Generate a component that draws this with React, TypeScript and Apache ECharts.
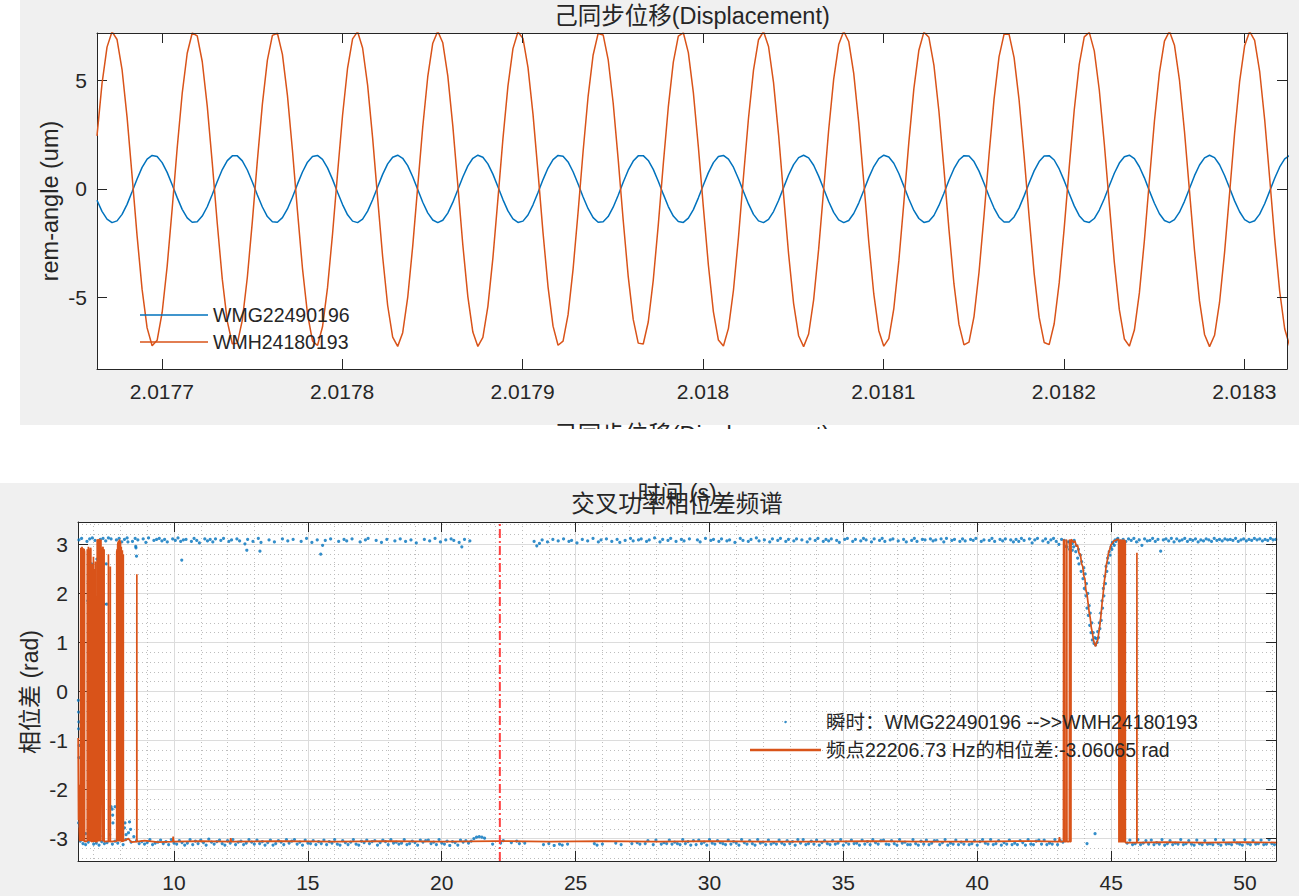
import React, { useEffect, useRef } from "react";
import * as echarts from "echarts";

const _ = null;

// ===== Top chart: 已同步位移 (Displacement) =====
const DISP_T0 = 2.0176641; // s, first sample time
const DISP_FS = 360000; // Hz, sample rate
const DISP_XMIN = 2.0176641;
const DISP_XMAX = 2.0183237;
const DISP_YMIN = -8.28;
const DISP_YMAX = 7.17;

const dispWMG = [
  -0.52, -1.03, -1.39, -1.55, -1.47, -1.17, -0.71, -0.13, 0.46, 0.99,
  1.37, 1.54, 1.49, 1.21, 0.76, 0.19, -0.4, -0.94, -1.33, -1.53,
  -1.51, -1.25, -0.82, -0.26, 0.34, 0.89, 1.3, 1.52, 1.52, 1.29,
  0.87, 0.32, -0.28, -0.83, -1.27, -1.51, -1.53, -1.32, -0.92, -0.38,
  0.22, 0.78, 1.23, 1.49, 1.54, 1.36, 0.97, 0.44, -0.15, -0.72,
  -1.19, -1.48, -1.55, -1.39, -1.02, -0.5, 0.09, 0.67, 1.15, 1.46,
  1.55, 1.41, 1.07, 0.56, -0.03, -0.61, -1.1, -1.43, -1.55, -1.44,
  -1.11, -0.62, -0.04, 0.55, 1.06, 1.41, 1.55, 1.46, 1.15, 0.68,
  0.1, -0.49, -1.01, -1.38, -1.54, -1.48, -1.2, -0.73, -0.16, 0.43,
  0.96, 1.35, 1.54, 1.5, 1.24, 0.79, 0.23, -0.37, -0.91, -1.32,
  -1.53, -1.51, -1.27, -0.84, -0.29, 0.31, 0.86, 1.28, 1.52, 1.53,
  1.31, 0.9, 0.35, -0.24, -0.81, -1.25, -1.5, -1.54, -1.34, -0.95,
  -0.41, 0.18, 0.75, 1.21, 1.49, 1.54, 1.37, 1.0, 0.47, -0.12,
  -0.69, -1.17, -1.47, -1.55, -1.4, -1.04, -0.53, 0.06, 0.64, 1.12,
  1.44, 1.55, 1.43, 1.09, 0.59, 0.01, -0.58, -1.08, -1.42, -1.55,
  -1.45, -1.13, -0.65, -0.07, 0.52, 1.03, 1.39, 1.55, 1.47, 1.18,
  0.71, 0.13, -0.46, -0.99, -1.36, -1.54, -1.49, -1.22, -0.76, -0.2,
  0.4, 0.93, 1.33, 1.53, 1.51, 1.26, 0.82, 0.26, -0.34, -0.88,
  -1.3, -1.52, -1.52, -1.29, -0.87, -0.32, 0.27, 0.83, 1.26, 1.51,
  1.53, 1.33, 0.92, 0.38, -0.21, -0.78, -1.23, -1.49, -1.54, -1.36,
  -0.97, -0.45, 0.15, 0.72, 1.19, 1.48, 1.55, 1.39, 1.02, 0.51,
  -0.09, -0.66, -1.14, -1.45, -1.55, -1.41, -1.07, -0.57, 0.02, 0.61,
  1.1, 1.43, 1.55, 1.44, 1.11, 0.62, 0.04, -0.55, -1.05, -1.41,
  -1.55, -1.46, -1.16, -0.68, -0.1, 0.49, 1.01, 1.38, 1.54,
];

const dispWMH = [
  2.44, 4.84, 6.52, 7.23, 6.87, 5.49, 3.3, 0.61, -2.16, -4.62,
  -6.39, -7.21, -6.96, -5.68, -3.56, -0.91, 1.88, 4.39, 6.24, 7.17,
  7.04, 5.86, 3.81, 1.2, -1.59, -4.15, -6.09, -7.12, -7.1, -6.03,
  -4.06, -1.49, 1.3, 3.9, 5.92, 7.06, 7.16, 6.19, 4.3, 1.78,
  -1.01, -3.65, -5.74, -6.99, -7.2, -6.34, -4.54, -2.07, 0.71, 3.39,
  5.56, 6.9, 7.23, 6.48, 4.77, 2.35, -0.42, -3.12, -5.36, -6.81,
  -7.24, -6.61, -4.99, -2.63, 0.12, 2.85, 5.16, 6.7, 7.25, 6.72,
  5.2, 2.9, 0.18, -2.58, -4.95, -6.58, -7.24, -6.83, -5.4, -3.17,
  -0.47, 2.3, 4.73, 6.45, 7.22, 6.92, 5.59, 3.44, 0.77, -2.01,
  -4.5, -6.31, -7.19, -7.0, -5.78, -3.69, -1.06, 1.73, 4.26, 6.16,
  7.15, 7.08, 5.95, 3.95, 1.36, -1.44, -4.02, -6.0, -7.09, -7.13,
  -6.12, -4.19, -1.65, 1.15, 3.77, 5.83, 7.03, 7.18, 6.27, 4.43,
  1.93, -0.85, -3.51, -5.65, -6.95, -7.22, -6.41, -4.66, -2.22, 0.56,
  3.25, 5.46, 6.86, 7.24, 6.55, 4.89, 2.5, -0.26, -2.98, -5.26,
  -6.75, -7.25, -6.67, -5.1, -2.77, -0.04, 2.71, 5.05, 6.64, 7.25,
  6.78, 5.31, 3.05, 0.33, -2.43, -4.83, -6.52, -7.23, -6.88, -5.5,
  -3.31, -0.63, 2.15, 4.61, 6.38, 7.21, 6.97, 5.69, 3.57, 0.92,
  -1.86, -4.37, -6.23, -7.17, -7.04, -5.87, -3.83, -1.22, 1.57, 4.13,
  6.08, 7.12, 7.11, 6.04, 4.08, 1.51, -1.28, -3.88, -5.91, -7.06,
  -7.16, -6.2, -4.32, -1.8, 0.99, 3.63, 5.73, 6.99, 7.2, 6.35,
  4.55, 2.08, -0.69, -3.37, -5.55, -6.9, -7.23, -6.49, -4.78, -2.37,
  0.4, 3.11, 5.35, 6.8, 7.25, 6.61, 5.0, 2.64, -0.1, -2.83,
  -5.15, -6.69, -7.25, -6.73, -5.21, -2.92, -0.2, 2.56, 4.93, 6.58,
  7.24, 6.83, 5.41, 3.19, 0.49, -2.28, -4.71, -6.44, -7.22,
];

// ===== Bottom chart: 交叉功率相位差频谱 =====
const PH_XMIN = 6.415;
const PH_XMAX = 51.158;
const PH_YMIN = -3.456;
const PH_YMAX = 3.456;
const PH_STEP = 0.1; // s, frame step
const PH_UPPER_T0 = 6.45;
const PH_LOWER_T0 = 6.5;
const MARKER_T = 22.17;

// instantaneous phase near +pi (one value per frame, null = no point)
const phaseUpper = [
  3.09, 3.12, _, 3.06, 3.11, 3.13, 3.08, _, 3.1, 3.12,
  3.07, 3.13, 3.11, _, 3.09, 3.12, 3.05, 3.1, 3.13, _,
  3.06, 3.12, 3.09, _, 3.11, 3.04, 3.13, _, 3.08, 3.1,
  3.12, 3.07, 3.1, 3.05, _, 3.11, 3.08, 3.13, 3.06, 3.09,
  3.1, _, 3.06, 3.12, 3.08, 3.03, _, 3.11, 3.07, 3.1,
  3.05, 3.11, _, 3.08, 3.12, _, 3.06, 3.09, _, 3.11,
  3.07, _, 3.01, 3.1, _, 3.06, _, 3.12, 3.04, _,
  _, 3.09, _, 3.05, _, _, 3.11, _, 3.07, _,
  3.1, _, _, 3.06, _, 3.12, _, 3.04, _, 3.09,
  _, 2.98, 3.08, _, 3.11, _, _, 3.06, _, 3.1,
  3.07, _, 3.11, _, _, 3.05, _, 3.09, 3.12, _,
  _, 3.08, _, 3.04, _, 3.1, _, _, 3.07, _,
  3.11, _, 3.06, _, 3.09, _, 3.03, _, _, 3.1,
  _, 3.07, _, 3.12, _, 3.05, _, 3.09, _, 3.11,
  3.08, _, 3.04, 2.95, 3.1, _, 3.07, _, _, _,
  _, _, _, _, _, _, _, _, _, _,
  _, _, _, _, _, _, _, _, _, _,
  3.06, 2.97, 3.02, 3.09, _, 3.05, _, 3.1, _, 3.07,
  _, 3.11, _, 3.06, 3.08, _, 3.03, _, 3.1, _,
  3.07, _, 3.12, _, 3.05, 3.09, _, 3.11, _, 3.06,
  _, 3.1, 3.04, _, 3.08, _, 3.12, 3.07, _, 3.09,
  3.11, _, 3.06, 3.09, _, 3.13, _, 3.05, 3.1, _,
  3.08, 3.12, _, 3.06, _, 3.1, 3.07, _, 3.11, _,
  _, 3.09, 3.05, _, 3.12, _, 3.08, 3.1, _, 3.06,
  3.11, _, 3.07, 3.09, _, 3.04, _, 3.12, 3.08, _,
  3.06, 3.1, _, 3.13, 3.07, _, 3.09, _, 3.05, 3.11,
  _, 3.08, 3.12, _, 3.06, 3.1, _, 3.07, 3.11, _,
  3.09, _, 3.05, 3.11, _, 3.08, 3.12, _, 3.06, 3.1,
  3.07, 3.11, _, 3.08, 3.04, _, 3.1, 3.12, _, 3.06,
  3.1, _, 3.07, 3.12, 3.09, _, 3.05, 3.11, _, 3.08,
  3.12, 3.06, _, 3.09, 3.11, _, 3.07, _, 3.1, 3.05,
  _, 3.08, 3.12, 3.06, _, 3.1, 3.09, _, 3.11, 3.07,
  3.09, _, 3.11, 3.05, 3.12, _, 3.08, 3.1, _, 3.06,
  3.11, 3.07, _, 3.1, 3.08, 3.12, _, 3.06, 3.09, _,
  3.08, 3.12, 3.06, _, 3.1, 3.07, 3.11, _, 3.09, 3.05,
  3.1, 3.06, 3.12, 3.08, _, 3.11, 3.03, 3.09, 3.12, _,
  3.07, 3.11, 3.04, 3.09, 3.12, 3.06, 3.0, 3.1, 3.08, 2.95,
  3.05, 2.88, _, _, _, _, _, _, _, _,
  _, _, _, _, _, _, 3.04, 3.09, 3.12, 3.07,
  3.1, 3.06, 3.11, 3.08, 3.12, 3.05, 3.09, 2.98, 3.11, 3.07,
  3.08, 3.12, 3.06, 3.1, 2.86, 3.09, 3.11, 3.07, 3.12, 3.05,
  3.11, 3.07, 3.09, 3.12, 3.06, 3.1, 3.08, 3.11, 3.05, 3.09,
  3.07, 3.11, 3.09, 3.06, 3.12, 3.08, 3.1, 3.07, 3.11, 3.09,
  3.1, 3.08, 3.12, 3.06, 3.09, 3.11, 3.07, 3.1, 3.08, 3.12,
  3.09, 3.11, 3.07, 3.1, 3.08, 3.12, 3.09, 3.1,
];

// instantaneous phase near -pi (one value per frame, null = no point)
const phaseLower = [
  -3.05, -3.1, -3.12, -3.07, -2.98, -3.11, -3.09, -3.13, -3.06, -3.1,
  -3.08, -2.92, -3.11, -3.05, -3.09, -2.95, -3.12, -3.02, -2.88, -3.07,
  -2.96, -3.04, -3.1, -3.06, -3.11, -3.08, -3.02, -3.12, -3.09, -3.07,
  -3.03, -3.1, -3.06, -3.12, -3.02, -3.09, -3.11, -3.04, -3.08, -3.13,
  -3.09, -3.02, -3.12, -3.05, -3.1, -3.03, -3.08, -3.13, -3.01, -3.07,
  -3.11, -3.06, -3.03, -3.1, -3.13, -3.04, -3.09, -3.02, -3.12, -3.07,
  -3.05, -3.12, -3.09, -3.02, -3.07, -3.11, -3.03, -3.1, -3.06, -3.13,
  -3.08, -3.03, -3.13, -3.1, -3.04, -3.07, -3.12, -3.02, -3.09, -3.05,
  -3.02, -3.11, -3.07, -3.13, -3.03, -3.09, -3.1, -3.04, -3.12, -3.06,
  -3.1, -3.03, -3.12, -3.06, -3.09, -3.02, -3.11, -3.13, -3.04, -3.08,
  -3.12, -3.07, -3.02, -3.11, -3.13, -3.05, -3.08, -3.03, -3.1, -3.06,
  -3.04, -3.13, -3.08, -3.03, -3.06, -3.12, -3.02, -3.09, -3.07, -3.11,
  -3.09, -3.02, -3.12, -3.1, -3.05, -3.08, -3.13, -3.03, -3.07, -3.04,
  -3.03, -3.1, -3.07, -3.12, -3.02, -3.09, -3.11, -3.05, -3.14, -3.06,
  -3.08, -3.13, -3.03, -3.07, -3.04, -3.09, -3.05, -3.0, -2.97, -2.96,
  -2.97, -2.99, _, _, -3.11, _, _, -3.09, -3.04, _,
  _, -3.08, _, -3.05, -3.1, _, -3.09, _, _, _,
  _, _, _, -3.12, _, -3.1, _, -3.14, _, -3.11,
  -3.13, _, -3.11, _, _, _, _, _, _, _,
  _, _, -3.1, -3.13, _, -3.11, _, _, _, _,
  -3.09, _, -3.12, _, _, _, -3.1, _, -3.08, -3.11,
  _, -3.1, -3.04, _, -3.12, -3.03, _, -3.11, -3.08, -3.1,
  -3.03, -3.11, -3.07, -3.1, -3.12, -3.02, -3.1, -3.06, -3.13, -3.04,
  -3.12, -3.03, -3.1, -3.07, -3.13, -3.02, -3.09, -3.11, -3.04, -3.08,
  -3.1, -3.12, -3.03, -3.11, -3.06, -3.09, -3.13, -3.02, -3.08, -3.11,
  -3.04, -3.1, -3.13, -3.02, -3.09, -3.07, -3.12, -3.03, -3.11, -3.08,
  -3.11, -3.03, -3.09, -3.12, -3.04, -3.1, -3.06, -3.13, -3.02, -3.09,
  -3.02, -3.12, -3.1, -3.05, -3.11, -3.03, -3.13, -3.08, -3.04, -3.1,
  -3.12, -3.04, -3.11, -3.09, -3.02, -3.13, -3.07, -3.11, -3.03, -3.1,
  -3.09, -3.13, -3.03, -3.11, -3.06, -3.12, -3.02, -3.08, -3.11, -3.04,
  -3.03, -3.11, -3.12, -3.04, -3.1, -3.13, -3.02, -3.09, -3.07, -3.12,
  -3.12, -3.02, -3.1, -3.13, -3.05, -3.11, -3.03, -3.12, -3.09, -3.04,
  -3.04, -3.12, -3.08, -3.02, -3.13, -3.09, -3.11, -3.03, -3.12, -3.07,
  -3.11, -3.03, -3.12, -3.1, -3.04, -3.13, -3.06, -3.02, -3.09, -3.11,
  -3.02, -3.12, -3.1, -3.04, -3.13, -3.08, -3.11, -3.03, -3.12, -3.09,
  -3.12, -3.04, -3.08, -3.13, -3.02, -3.11, -3.12, -3.05, -3.03, -3.11,
  -3.03, -3.12, -3.09, -3.11, -3.02, -3.12, -3.04, -3.07, _, _,
  _, _, _, _, _, _, -3.1, _, _, -2.9,
  _, _, _, _, _, _, _, _, _, _,
  _, -3.09, -3.03, -3.12, -3.1, -3.02, -3.12, -3.09, -3.04, -3.11,
  -3.03, -3.12, -3.08, -3.11, -3.02, -3.13, -3.1, -3.04, -3.12, -3.09,
  -3.11, -3.02, -3.12, -3.1, -3.04, -3.11, -3.13, -3.03, -3.1, -3.12,
  -3.04, -3.11, -3.1, -3.12, -3.02, -3.1, -3.13, -3.03, -3.11, -3.1,
  -3.12, -3.03, -3.09, -3.11, -3.13, -3.02, -3.1, -3.12, -3.04, -3.11,
  -3.1, -3.03, -3.12, -3.11, -3.02, -3.1, -3.12,
];

// scattered instantaneous points at the start
const earlyT = [
  6.43, 6.44, 6.45, 6.44, 6.46, 6.45, 6.44, 6.47, 6.56, 6.58,
  6.6, 6.78, 6.8, 6.82, 6.84, 6.86, 6.86, 6.87, 6.89, 6.92,
  6.98, 7.04, 7.11, 7.15, 7.12, 7.19, 7.28, 7.4, 7.49, 7.47,
  7.65, 7.69, 7.71, 7.72, 7.8, 8.15, 8.17, 8.21, 8.34, 8.38,
  8.28, 8.57, 8.58, 8.6, 10.29, 12.72, 13.21, 15.48, 6.7, 6.95,
  7.35, 7.9,
];
const earlyV = [
  -0.18, -0.42, -0.62, -0.76, -1.1, -1.35, -2.68, -2.75, 2.85, 2.6,
  2.4, 1.85, 2.25, 1.95, 1.6, 2.52, 0.26, 0.09, 0.06, 2.6,
  1.0, 0.8, 0.9, 0.76, 2.7, 2.3, 2.65, 1.78, 1.78, 2.6,
  -2.35, -2.4, -2.52, -2.68, -2.35, -2.78, -2.68, -2.92, -2.66, -2.81,
  3.05, 2.96, 2.93, 2.76, 2.68, 2.88, 2.86, 2.8, -2.9, -2.85,
  -2.95, -2.9,
];

// instantaneous points in the dip around 44 s
const dipT = [
  43.3, 43.4, 43.45, 43.55, 43.6, 43.62, 43.68, 43.7, 43.75, 43.78,
  43.8, 43.85, 43.88, 43.9, 43.95, 43.98, 44.0, 44.03, 44.06, 44.08,
  44.1, 44.13, 44.15, 44.18, 44.2, 44.22, 44.25, 44.28, 44.3, 44.33,
  44.36, 44.39, 44.42, 44.45, 44.48, 44.5, 44.53, 44.56, 44.58, 44.61,
  44.63, 44.66, 44.68, 44.71, 44.73, 44.76, 44.79, 44.81, 44.84, 44.87,
  44.9, 44.93, 44.96, 45.0, 45.03, 45.07, 45.12, 45.18, 45.24,
];
const dipV = [
  2.96, 3.05, 2.9, 3.02, 2.95, 3.08, 2.85, 2.98, 2.72, 2.9,
  2.6, 2.78, 2.45, 2.65, 2.3, 2.52, 2.1, 2.4, 1.95, 2.2,
  1.7, 2.0, 1.55, 1.75, 1.35, 1.6, 1.2, 1.4, 1.05, 1.2,
  0.98, 1.1, 0.95, 1.08, 1.0, 1.22, 1.1, 1.4, 1.28, 1.6,
  1.45, 1.85, 1.7, 2.1, 1.95, 2.35, 2.2, 2.55, 2.45, 2.72,
  2.62, 2.85, 2.78, 2.95, 2.9, 3.02, 2.98, 3.06, 3.1,
];

// phase at 22206.73 Hz (line vertices)
const lineT = [
  6.42, 6.435, 6.45, 6.465, 6.48, 6.5,
  6.52, 6.522, 6.54, 6.542, 6.56, 6.562, 6.58, 6.582, 6.6, 6.602,
  6.62, 6.622, 6.64, 6.642, 6.66, 6.662,
  6.76, 6.762, 6.78, 6.782, 6.8, 6.802, 6.82, 6.822, 6.84, 6.842,
  6.86, 6.862, 6.88, 6.882, 6.895, 6.897,
  6.95, 6.952, 6.955, 6.99, 6.992, 6.995, 7.03, 7.032, 7.035, 7.065, 7.067, 7.07,
  7.13, 7.132, 7.15, 7.152, 7.165, 7.167, 7.185, 7.187, 7.2, 7.202,
  7.22, 7.222, 7.235, 7.237, 7.255, 7.257, 7.27, 7.272,
  7.33, 7.332, 7.35, 7.352, 7.37, 7.372, 7.39, 7.392,
  7.55, 7.552, 7.554, 7.62, 7.622, 7.624,
  7.86, 7.862, 7.88, 7.882, 7.895, 7.897, 7.915, 7.917, 7.93, 7.932,
  7.95, 7.952, 7.965, 7.967, 7.985, 7.987, 8.0, 8.002,
  8.03, 8.032, 8.035, 8.07, 8.072, 8.075, 8.105, 8.107, 8.11,
  8.3, 8.4, 8.61, 8.612, 8.615, 8.9, 9.4, 9.95, 9.97, 9.99,
  11.0, 12.1, 12.12, 12.14, 14.0, 16.0, 18.0, 20.0, 22.0, 24.0,
  26.0, 28.0, 30.0, 32.0, 34.0, 36.0, 38.0, 40.0, 42.0, 43.05,
  43.07, 43.09, 43.22, 43.225, 43.25, 43.255, 43.32, 43.325, 43.345, 43.35,
  43.44, 43.445, 43.465, 43.47, 43.5, 43.505,
  43.55, 43.6, 43.65, 43.7, 43.75, 43.8, 43.85, 43.9, 43.94, 43.98,
  44.02, 44.06, 44.1, 44.14, 44.18, 44.22, 44.26, 44.3, 44.34, 44.38,
  44.42, 44.46, 44.5, 44.54, 44.58, 44.62, 44.66, 44.7, 44.74, 44.78,
  44.82, 44.86, 44.9, 44.95, 45.0, 45.05, 45.1, 45.16, 45.22, 45.28,
  45.292, 45.305, 45.307, 45.32, 45.322, 45.335, 45.337, 45.35, 45.352, 45.365,
  45.367, 45.38, 45.382, 45.395, 45.397, 45.41, 45.412, 45.425, 45.427, 45.44,
  45.442, 45.455, 45.457, 45.47, 45.472, 45.485, 45.487, 45.5, 45.502, 45.515,
  45.517, 45.53, 45.532,
  45.96, 45.963, 45.966, 47.0, 48.5, 50.0, 51.2,
];
const lineV = [
  -0.95, -2.62, -1.9, -2.85, -3.04, -3.05,
  -3.05, 2.93, 2.88, -3.05, -3.06, 2.95, 2.9, -3.05, -3.05, 2.86,
  2.92, -3.06, -3.05, 2.9, 2.85, -3.06,
  -3.05, 2.9, 2.84, -3.05, -3.06, 2.95, 2.88, -3.05, -3.06, 2.7,
  2.82, -3.06, -3.05, 2.93, 2.9, -3.05,
  -3.06, 2.6, -3.05, -3.06, 2.75, -3.05, -3.05, 2.5, -3.06, -3.05, 2.65, -3.06,
  -3.06, 3.1, 3.08, -3.05, -3.06, 3.09, 3.05, -3.06, -3.05, 3.11,
  3.06, -3.05, -3.06, 3.08, 3.02, -3.06, -3.05, 3.1,
  -3.05, 2.92, 2.95, -3.06, -3.05, 2.85, 2.9, -3.06,
  -3.05, 2.8, -3.06, -3.05, 2.55, -3.06,
  -3.05, 2.85, 2.9, -3.06, -3.05, 3.0, 3.05, -3.06, -3.05, 3.08,
  3.02, -3.06, -3.05, 3.1, 3.06, -3.06, -3.05, 3.05,
  -3.05, 2.95, -3.06, -3.05, 2.88, -3.06, -3.05, 2.8, -3.05,
  -3.0, -3.07, -3.06, 2.39, -3.06, -3.04, -3.07, -3.06, -2.96, -3.06,
  -3.05, -3.06, -2.99, -3.06, -3.05, -3.06, -3.05, -3.06, -3.05, -3.06,
  -3.05, -3.06, -3.05, -3.06, -3.06, -3.05, -3.06, -3.06, -3.05, -3.06,
  -2.97, -3.06, -3.06, 3.1, 3.08, -3.06, -3.06, 3.1, 3.06, -3.06,
  -3.06, 3.1, 3.07, -3.06, -3.06, 3.1,
  3.08, 3.04, 3.07, 2.96, 2.98, 2.82, 2.8, 2.6, 2.55, 2.36,
  2.3, 2.06, 1.98, 1.8, 1.62, 1.5, 1.3, 1.2, 1.05, 0.98,
  0.92, 1.0, 1.05, 1.2, 1.35, 1.55, 1.78, 1.98, 2.22, 2.38,
  2.58, 2.68, 2.82, 2.9, 3.0, 3.02, 3.07, 3.08, 3.1, 3.1,
  -3.08, -3.08, 3.1, 3.1, -3.08, -3.08, 3.1, 3.09, -3.08, -3.08,
  3.1, 3.1, -3.08, -3.08, 3.09, 3.1, -3.08, -3.08, 3.1, 3.1,
  -3.08, -3.08, 3.1, 3.09, -3.08, -3.08, 3.1, 3.1, -3.08, -3.08,
  3.08, 3.06, -3.08,
  -3.08, 2.83, -3.08, -3.07, -3.08, -3.07, -3.08,
];

const TOP_SERIES = ["WMG22490196", "WMH24180193"];
const SCATTER_NAME = "瞬时：WMG22490196 -->>WMH24180193";
const LINE_NAME = "频点22206.73 Hz的相位差:-3.06065 rad";
const TOP_TITLE = "己同步位移(Displacement)";
const BOTTOM_TITLE = "交叉功率相位差频谱";
const TOP_YLABEL = "rem-angle (um)";
const BOTTOM_YLABEL = "相位差 (rad)";
const STRAY_XLABEL = "时间 (s)";

const FONT = '"Liberation Sans", Arial, "Noto Sans CJK SC", sans-serif';
const DARK = "#262626";
const BLUE = "#0072BD";
const ORANGE = "#D95319";

function buildOption() {
  const wmg = dispWMG.map((v, i) => [DISP_T0 + i / DISP_FS, v]);
  const wmh = dispWMH.map((v, i) => [DISP_T0 + i / DISP_FS, v]);

  const pts: number[][] = [];
  phaseUpper.forEach((v, i) => {
    if (v !== null) pts.push([PH_UPPER_T0 + i * PH_STEP, v]);
  });
  phaseLower.forEach((v, i) => {
    if (v !== null) pts.push([PH_LOWER_T0 + i * PH_STEP, v]);
  });
  earlyT.forEach((t, i) => pts.push([t, earlyV[i]]));
  dipT.forEach((t, i) => pts.push([t, dipV[i]]));
  const line = lineT.map((t, i) => [t, lineV[i]]);

  const axisLine = { show: true, onZero: false, lineStyle: { color: DARK, width: 1 } };
  const axisTick = { show: true, inside: true, length: 10, lineStyle: { color: DARK, width: 1 } };
  const label = {
    show: true,
    color: DARK,
    fontSize: 21,
    fontFamily: FONT,
    showMinLabel: false,
    showMaxLabel: false,
  };
  const majorGrid = {
    show: true,
    showMinLine: false,
    showMaxLine: false,
    lineStyle: { color: "#dcdcdc", width: 1 },
  };
  const minorGrid = {
    show: true,
    lineStyle: { color: "#bdbdbd", width: 1, type: [1, 3] },
  };

  const xAxis = [
    {
      type: "value", gridIndex: 0, position: "bottom", min: DISP_XMIN, max: DISP_XMAX,
      minInterval: 0.0001, maxInterval: 0.0001, axisLine, axisTick,
      axisLabel: { ...label, margin: 12 }, splitLine: { show: false },
    },
    {
      type: "value", gridIndex: 0, position: "top", min: DISP_XMIN, max: DISP_XMAX,
      minInterval: 0.0001, maxInterval: 0.0001, axisLine, axisTick, z: 5,
      axisLabel: { show: false }, splitLine: { show: false },
    },
    {
      type: "value", gridIndex: 1, position: "bottom", min: PH_XMIN, max: PH_XMAX,
      minInterval: 5, maxInterval: 5, axisLine, axisTick,
      axisLabel: { ...label, margin: 11 }, splitLine: majorGrid,
      minorTick: { show: false, splitNumber: 5 }, minorSplitLine: minorGrid,
    },
    {
      type: "value", gridIndex: 1, position: "top", min: PH_XMIN, max: PH_XMAX,
      minInterval: 5, maxInterval: 5, axisLine, axisTick, z: 5,
      axisLabel: { show: false }, splitLine: { show: false },
    },
  ];
  const yAxis = [
    {
      type: "value", gridIndex: 0, position: "left", min: DISP_YMIN, max: DISP_YMAX,
      minInterval: 5, maxInterval: 5, axisLine, axisTick,
      axisLabel: { ...label, margin: 10 }, splitLine: { show: false },
    },
    {
      type: "value", gridIndex: 0, position: "right", min: DISP_YMIN, max: DISP_YMAX,
      minInterval: 5, maxInterval: 5, axisLine, axisTick, z: 5,
      axisLabel: { show: false }, splitLine: { show: false },
    },
    {
      type: "value", gridIndex: 1, position: "left", min: PH_YMIN, max: PH_YMAX,
      minInterval: 1, maxInterval: 1, axisLine, axisTick,
      axisLabel: { ...label, margin: 10 }, splitLine: majorGrid,
      minorTick: { show: false, splitNumber: 5 }, minorSplitLine: minorGrid,
    },
    {
      type: "value", gridIndex: 1, position: "right", min: PH_YMIN, max: PH_YMAX,
      minInterval: 1, maxInterval: 1, axisLine, axisTick, z: 5,
      axisLabel: { show: false }, splitLine: { show: false },
    },
  ];

  const txt = (text: string, x: number, y: number, size: number, extra: any = {}) => ({
    type: "text",
    x,
    y,
    z: 10,
    ...extra,
    style: {
      text,
      fill: DARK,
      fontSize: size,
      fontFamily: FONT,
      align: "center",
      verticalAlign: "middle",
      textAlign: "center",
      textVerticalAlign: "middle",
    },
  });

  return {
    animation: false,
    backgroundColor: "#ffffff",
    grid: [
      { left: 97, top: 33, width: 1190, height: 336, containLabel: false },
      { left: 78, top: 522, width: 1198, height: 339, containLabel: false },
    ],
    xAxis,
    yAxis,
    legend: [
      {
        data: TOP_SERIES.map((n) => ({ name: n, icon: "rect" })),
        orient: "vertical",
        left: 140,
        top: 305,
        padding: 0,
        itemWidth: 68,
        itemHeight: 1.6,
        itemGap: 7,
        selectedMode: false,
        textStyle: { color: DARK, fontSize: 19.5, fontFamily: FONT, lineHeight: 20 },
      },
      {
        data: [
          { name: SCATTER_NAME, icon: "circle" },
          { name: LINE_NAME, icon: "rect" },
        ],
        orient: "vertical",
        left: 750,
        top: 711,
        padding: 0,
        itemWidth: 71,
        itemHeight: 2.5,
        itemGap: 6,
        selectedMode: false,
        textStyle: { color: DARK, fontSize: 19.5, fontFamily: FONT, lineHeight: 22 },
      },
    ],
    graphic: {
      elements: [
        { type: "rect", z: -20, shape: { x: 20, y: 0, width: 1279, height: 425 }, style: { fill: "#f0f0f0" } },
        { type: "rect", z: -20, shape: { x: 0, y: 483, width: 1299, height: 413 }, style: { fill: "#f0f0f0" } },
        { type: "rect", z: -19, shape: { x: 97, y: 33, width: 1190, height: 336 }, style: { fill: "#ffffff" } },
        { type: "rect", z: -19, shape: { x: 78, y: 522, width: 1198, height: 339 }, style: { fill: "#ffffff" } },
        txt(TOP_TITLE, 692, 435, 23.5, { z: -18 }),
        txt(STRAY_XLABEL, 677, 493, 23, { z: -18 }),
        { type: "rect", z: -17, shape: { x: 0, y: 429, width: 1299, height: 54 }, style: { fill: "#ffffff" } },
        txt(TOP_TITLE, 692, 16, 23.5),
        txt(BOTTOM_TITLE, 677, 504, 23.5),
        txt(TOP_YLABEL, 50, 201, 23.5, { rotation: Math.PI / 2 }),
        txt(BOTTOM_YLABEL, 30, 692, 23, { rotation: Math.PI / 2 }),
      ],
    },
    series: [
      {
        name: TOP_SERIES[0], type: "line", xAxisIndex: 0, yAxisIndex: 0, data: wmg,
        showSymbol: false, symbol: "none", z: 2, color: BLUE,
        lineStyle: { color: BLUE, width: 1.5 },
      },
      {
        name: TOP_SERIES[1], type: "line", xAxisIndex: 0, yAxisIndex: 0, data: wmh,
        showSymbol: false, symbol: "none", z: 3, color: ORANGE,
        lineStyle: { color: ORANGE, width: 1.5 },
      },
      {
        name: SCATTER_NAME, type: "scatter", xAxisIndex: 2, yAxisIndex: 2, data: pts,
        symbol: "circle", symbolSize: 3.2, z: 2, color: BLUE,
        itemStyle: { color: BLUE },
      },
      {
        name: LINE_NAME, type: "line", xAxisIndex: 2, yAxisIndex: 2, data: line,
        showSymbol: false, symbol: "none", z: 3, color: ORANGE,
        lineStyle: { color: ORANGE, width: 1.7 },
      },
      {
        name: "marker", type: "line", xAxisIndex: 2, yAxisIndex: 2,
        data: [[MARKER_T, PH_YMIN], [MARKER_T, PH_YMAX]],
        showSymbol: false, symbol: "none", z: 4, silent: true,
        lineStyle: { color: "#ff4040", width: 2, type: [9, 3, 2, 3] },
      },
    ],
  };
}

export default function App() {
  const ref = useRef<HTMLDivElement>(null);
  useEffect(() => {
    if (!ref.current) return;
    const chart = echarts.init(ref.current, null, { renderer: "svg", width: 1299, height: 896 });
    chart.setOption(buildOption() as any);
    return () => chart.dispose();
  }, []);
  return (
    <div
      ref={ref}
      style={{ position: "fixed", left: 0, top: 0, width: 1299, height: 896 }}
    />
  );
}
